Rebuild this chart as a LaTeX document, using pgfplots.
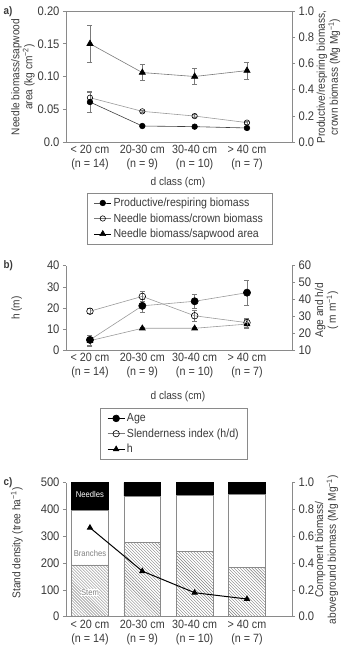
\documentclass[border=0pt]{standalone}
\usepackage{pgfplots}
\pgfplotsset{compat=1.18}
\usepackage{fontspec}
\setmainfont{Liberation Sans}[FakeStretch=0.9]
\usetikzlibrary{patterns}
\definecolor{axgray}{HTML}{8A8A8A}
\definecolor{txt}{HTML}{3A3A3A}
\definecolor{ln}{HTML}{7A7A7A}
\definecolor{lnlight}{HTML}{9A9A9A}

\pgfplotsset{
  base/.style={
    scale only axis, width=226bp,
    xmin=-0.458, xmax=3.86,
    axis line style={axgray, line width=0.6pt},
    tick style={axgray, line width=0.5pt},
    tick align=outside, major tick length=3bp,
    xtick style={draw=none},
    tick label style={font=\fontsize{12.5}{14}\selectfont, text=txt},
    label style={font=\fontsize{11.3}{13}\selectfont, text=txt},
    ylabel style={align=center},
    clip=false,
  },
  cats/.style={
    xtick={0,1,2,3},
    xticklabels={{< 20 cm\\(n = 14)},{20-30 cm\\(n = 9)},{30-40 cm\\(n = 10)},{> 40 cm\\(n = 7)}},
    xticklabel style={font=\fontsize{12}{14}\selectfont, align=center, text=txt, yshift=3bp},
  },
  eb/.style={error bars/.cd, y dir=both, y explicit,
    error bar style={ln, line width=0.5pt},
    error mark options={rotate=90, ln, mark size=2.5bp, line width=0.5pt}, /pgfplots/.cd},
  lg/.style={legend style={draw=axgray, line width=0.6pt, font=\fontsize{11.8}{14}\selectfont, text=txt, legend cell align=left, row sep=1.5bp, inner xsep=7bp, inner ysep=3bp}, legend cell align=left},
}

\begin{document}
\begin{tikzpicture}
\useasboundingbox (0,0) rectangle (346bp,651bp);

% ---------------- panel a ----------------
\begin{axis}[base, cats, at={(66bp,509bp)}, height=131bp,
  ymin=0, ymax=0.2, ytick={0,0.05,0.1,0.15,0.2},
  yticklabels={0.0,0.05,0.10,0.15,0.20},
  axis x line*=bottom, axis y line*=left,
  xlabel={d class (cm)},
  xlabel style={at={(axis description cs:0.495,-0.308)}, anchor=center},
  ylabel={Needle biomass/sapwood\\area (kg cm\textsuperscript{−2})},
  ylabel style={at={(axis description cs:-0.19,0.496)}, anchor=center},
  lg, legend style={at={(0.502,-0.387)}, anchor=north}]
\addlegendimage{black, line width=0.6pt, mark=*, mark size=2.8bp, mark options={black}}
\addlegendentry{Productive/respiring biomass}
\addlegendimage{ln, line width=0.6pt, mark=o, mark size=2.7bp, mark options={black, fill=white}}
\addlegendentry{Needle biomass/crown biomass}
\addlegendimage{black, line width=0.6pt, mark=triangle*, mark size=3.4bp, mark options={black}}
\addlegendentry{Needle biomass/sapwood area}
\addplot[forget plot, ln, line width=0.6pt, mark=triangle*, mark size=3.6bp, mark options={black, solid}, eb]
 coordinates {(0,0.150) +- (0,0.028) (1,0.106) +- (0,0.012) (2,0.100) +- (0,0.0125) (3,0.109) +- (0,0.0125)};
\end{axis}
\begin{axis}[base, at={(66bp,509bp)}, height=131bp,
  ymin=0, ymax=1, ytick={0,0.2,0.4,0.6,0.8,1},
  yticklabels={0.0,0.2,0.4,0.6,0.8,1.0},
  axis y line*=right, axis x line*=top, xtick=\empty,
  ylabel={Productive/respiring biomass,\\crown biomass (Mg Mg\textsuperscript{−1})},
  ylabel style={at={(axis description cs:1.161,0.496)}, anchor=center}]
\addplot[lnlight, line width=0.6pt, mark=o, mark size=2.7bp, mark options={black, fill=white, solid}, eb]
 coordinates {(0,0.338) +- (0,0.046) (1,0.234) +- (0,0.01) (2,0.198) +- (0,0.01) (3,0.148) +- (0,0.01)};
\addplot[black!75, line width=0.6pt, mark=*, mark size=2.8bp, mark options={black}, eb]
 coordinates {(0,0.305) +- (0,0.076) (1,0.122) +- (0,0.006) (2,0.117) +- (0,0.006) (3,0.107) +- (0,0.01)};
\end{axis}

% ---------------- panel b ----------------
\begin{axis}[base, cats, at={(66bp,301bp)}, height=84.3bp,
  ymin=0, ymax=40, ytick={0,10,20,30,40},
  yticklabels={0,10,20,30,40},
  axis x line*=bottom, axis y line*=left,
  xlabel={d class (cm)},
  xlabel style={at={(axis description cs:0.495,-0.554)}, anchor=center},
  ylabel={h (m)},
  ylabel style={at={(axis description cs:-0.218,0.498)}, anchor=center},
  lg, legend style={at={(0.478,-0.692)}, anchor=north}]
\addlegendimage{black, line width=0.6pt, mark=*, mark size=3.4bp, mark options={black}}
\addlegendentry{Age}
\addlegendimage{ln, line width=0.6pt, mark=o, mark size=3.2bp, mark options={black, fill=white}}
\addlegendentry{Slenderness index (h/d)}
\addlegendimage{black, line width=0.6pt, mark=triangle*, mark size=3.2bp, mark options={black}}
\addlegendentry{h}
\addplot[forget plot, lnlight, line width=0.6pt, mark=triangle*, mark size=3.4bp, mark options={black, solid}, eb]
 coordinates {(0,4.4) +- (0,2.5) (1,10.3) +- (0,0.4) (2,10.3) +- (0,0.4) (3,12.3) +- (0,2.2)};
\end{axis}
\begin{axis}[base, at={(66bp,301bp)}, height=84.3bp,
  ymin=10, ymax=60, ytick={10,20,30,40,50,60},
  yticklabels={10,20,30,40,50,60},
  axis y line*=right, axis x line=none,
  ylabel={Age and h/d\\( m m\textsuperscript{−1})},
  ylabel style={at={(axis description cs:1.153,0.47)}, anchor=center}]
\addplot[lnlight, line width=0.6pt, mark=o, mark size=3.3bp, mark options={black, fill=white, solid}, eb]
 coordinates {(0,33.0) +- (0,1.5) (1,41.8) +- (0,3.0) (2,30.3) +- (0,3.0) (3,26.2) +- (0,2.5)};
\addplot[lnlight, line width=0.6pt, mark=*, mark size=3.6bp, mark options={black}, eb]
 coordinates {(0,16.0) +- (0,3.0) (1,36.2) +- (0,3.9) (2,38.9) +- (0,4.0) (3,44.0) +- (0,7.4)};
\end{axis}

% ---------------- panel c ----------------
\begin{axis}[base, at={(66bp,34.3bp)}, height=134bp,
  ymin=0, ymax=1, ytick={0,0.2,0.4,0.6,0.8,1},
  yticklabels={0.0,0.2,0.4,0.6,0.8,1.0},
  axis y line*=right, axis x line=none,
  ybar stacked, bar width=0.7,
  ylabel={Component biomass/\\aboveground biomass (Mg Mg\textsuperscript{−1})},
  ylabel style={at={(axis description cs:1.153,0.50)}, anchor=center}]
\addplot[draw=axgray, line width=0.5pt, pattern=north west lines, pattern color=gray]
 coordinates {(0,0.386) (1,0.552) (2,0.490) (3,0.370)};
\addplot[draw=axgray, line width=0.5pt, fill=white]
 coordinates {(0,0.405) (1,0.348) (2,0.415) (3,0.545)};
\addplot[draw=black, line width=0.5pt, fill=black]
 coordinates {(0,0.209) (1,0.100) (2,0.095) (3,0.085)};
\end{axis}
\begin{axis}[base, cats, at={(66bp,34.3bp)}, height=134bp,
  ymin=0, ymax=500, ytick={0,100,200,300,400,500},
  yticklabels={0,100,200,300,400,500},
  axis x line*=bottom, axis y line*=left,
  ylabel={Stand density (tree ha\textsuperscript{−1})},
  ylabel style={at={(axis description cs:-0.218,0.55)}, anchor=center}]
\node[font=\fontsize{8.5}{9}\selectfont, text=white] at (axis cs:0,456.5) {Needles};
\node[font=\fontsize{8.5}{9}\selectfont, text=gray] at (axis cs:0,236.5) {Branches};
\node[font=\fontsize{8.5}{9}\selectfont, text=gray, fill=white, inner sep=0.5bp] at (axis cs:0,89.5) {Stem};
\addplot[black, line width=1pt, mark=triangle*, mark size=2.8bp, mark options={black}]
 coordinates {(0,332) (1,170) (2,89.5) (3,66)};
\end{axis}

\node[anchor=west, font=\bfseries\fontsize{11}{12}\selectfont, text=txt] at (0bp,639bp) {a)};
\node[anchor=west, font=\bfseries\fontsize{11}{12}\selectfont, text=txt] at (0bp,385.3bp) {b)};
\node[anchor=west, font=\bfseries\fontsize{11}{12}\selectfont, text=txt] at (0bp,168.3bp) {c)};
\end{tikzpicture}
\end{document}
